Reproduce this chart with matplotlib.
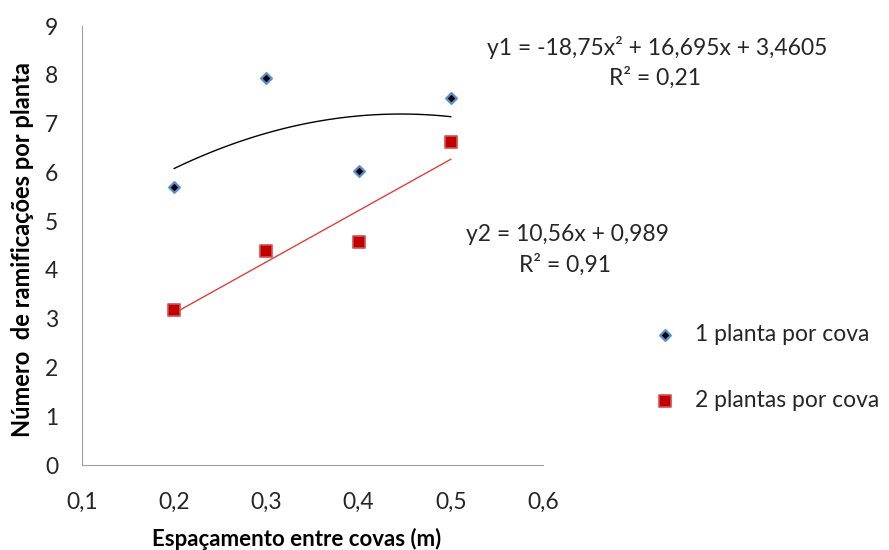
import numpy as np
import matplotlib
matplotlib.use("Agg")
import matplotlib.pyplot as plt

plt.rcParams["font.family"] = ["Lato", "DejaVu Sans"]

# espaçamento (m)
x = [0.2, 0.3, 0.4, 0.5]
y1 = [5.70, 7.94, 6.02, 7.52]   # 1 planta por cova
y2 = [3.18, 4.38, 4.58, 6.62]   # 2 plantas por cova

xticks = [0.1, 0.2, 0.3, 0.4, 0.5, 0.6]
xtick_labels = ["0,1", "0,2", "0,3", "0,4", "0,5", "0,6"]
yticks = list(range(10))

eq1 = "y1 = -18,75x² + 16,695x + 3,4605"
r1 = "R² = 0,21"
eq2 = "y2 = 10,56x + 0,989"
r2 = "R² = 0,91"

fig = plt.figure(figsize=(8.89, 5.5), dpi=100)
ax = fig.add_axes([0.0922, 0.1545, 0.5186, 0.7982])

# trend lines fitted to the points
xs = np.linspace(x[0], x[-1], 100)
c1 = np.polyfit(x, y1, 2)
c2 = np.polyfit(x, y2, 1)
ax.plot(xs, np.polyval(c1, xs), color="black", lw=1.0, zorder=2)
ax.plot(xs, np.polyval(c2, xs), color="#E0403C", lw=1.0, zorder=2)

ax.scatter(x, y1, marker="D", s=30, facecolor="black", edgecolor="#5B8FD0",
           linewidth=1.6, zorder=3, label="1 planta por cova")
ax.scatter(x, y2, marker="s", s=68, facecolor="#C00000", edgecolor="#D45050",
           linewidth=1.2, zorder=3, label="2 plantas por cova")

ax.set_xlim(0.1, 0.6)
ax.set_ylim(0, 9)
ax.set_xticks(xticks)
ax.set_xticklabels(xtick_labels)
ax.set_yticks(yticks)
ax.tick_params(length=0, labelsize=16.5, labelcolor="#262626")
ax.tick_params(axis="x", pad=19)
ax.tick_params(axis="y", pad=17)
for s in ["top", "right"]:
    ax.spines[s].set_visible(False)
for s in ["left", "bottom"]:
    ax.spines[s].set_color("#A0A0A0")

ax.set_xlabel("Espaçamento entre covas (m)", fontsize=16, fontweight="bold", labelpad=11)
ax.set_ylabel("Número  de ramificações por planta", fontsize=17, fontweight="bold", labelpad=8)
ax.xaxis.label.set_x(0.466)
ax.yaxis.label.set_y(0.49)

fig.text(0.739, 0.913, eq1, fontsize=16.5, ha="center", va="center", color="#262626")
fig.text(0.737, 0.858, r1, fontsize=16.5, ha="center", va="center", color="#262626")
fig.text(0.638, 0.574, eq2, fontsize=16.5, ha="center", va="center", color="#262626")
fig.text(0.636, 0.519, r2, fontsize=16.5, ha="center", va="center", color="#262626")

fig.legend(loc="center left", bbox_to_anchor=(0.722, 0.332), frameon=False,
           fontsize=16.5, borderpad=0, handlelength=1, handletextpad=0.81,
           labelspacing=1.95, labelcolor="#262626")

fig.savefig("out.png", dpi=100)
